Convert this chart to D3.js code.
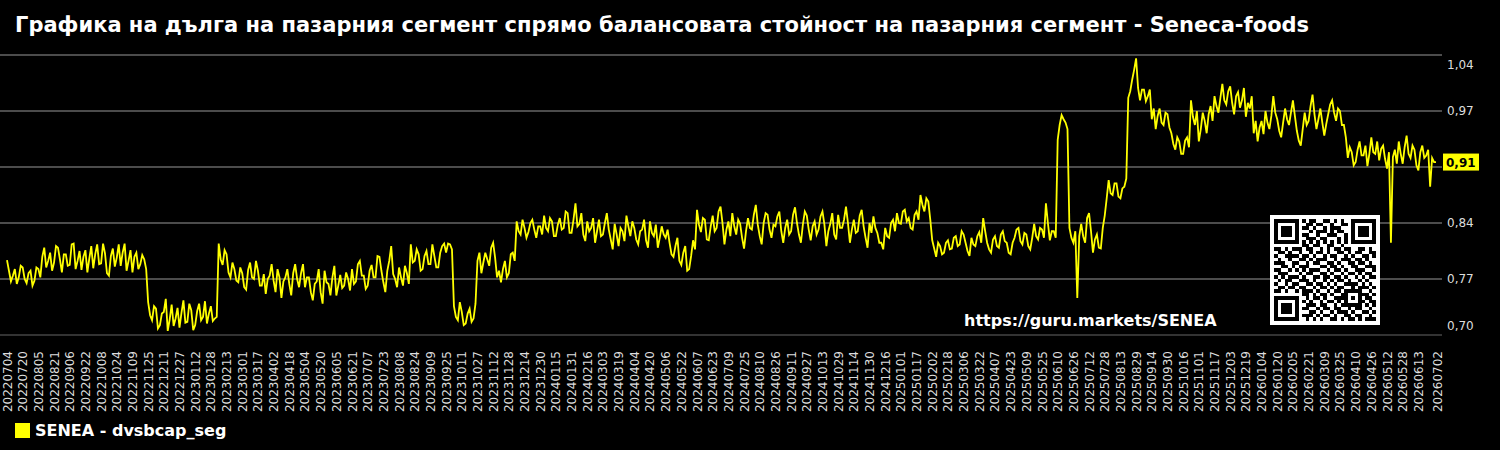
<!DOCTYPE html>
<html>
  <head>
    <meta charset="utf-8">
    <title>Seneca-foods dvsbcap_seg</title>
    <script src="https://cdn.jsdelivr.net/npm/d3@7"></script>
    <style>
      body { margin: 0; background: #000; }
      svg { display: block; font-family: "DejaVu Sans", sans-serif; }
    </style>
  </head>
  <body>
    <div id="chart"></div>
    <script>
      // data, one value every 2 days from 20220704
      const startDay = "20220704";
      const endDay = "20260702";
      const stepDays = 2;
      const values = [
        0.791, 0.778, 0.765, 0.772, 0.780, 0.762, 0.770, 0.784, 0.782, 0.768, 0.763, 0.775, 0.778, 0.760, 0.766, 0.782, 0.780, 0.770,
        0.795, 0.806, 0.782, 0.790, 0.800, 0.778, 0.788, 0.808, 0.806, 0.792, 0.776, 0.798, 0.798, 0.784, 0.785, 0.810, 0.811, 0.780,
        0.790, 0.802, 0.779, 0.795, 0.803, 0.776, 0.793, 0.808, 0.781, 0.798, 0.810, 0.786, 0.787, 0.811, 0.799, 0.775, 0.772, 0.796,
        0.805, 0.783, 0.794, 0.810, 0.784, 0.800, 0.811, 0.778, 0.790, 0.803, 0.776, 0.795, 0.800, 0.780, 0.786, 0.797, 0.792, 0.780,
        0.740, 0.724, 0.718, 0.735, 0.732, 0.708, 0.712, 0.726, 0.728, 0.744, 0.705, 0.719, 0.737, 0.711, 0.720, 0.733, 0.709, 0.727,
        0.742, 0.715, 0.716, 0.738, 0.730, 0.706, 0.712, 0.729, 0.738, 0.718, 0.722, 0.741, 0.714, 0.726, 0.735, 0.717, 0.720, 0.722,
        0.811, 0.792, 0.785, 0.803, 0.798, 0.776, 0.770, 0.788, 0.780, 0.766, 0.764, 0.782, 0.775, 0.758, 0.755, 0.779, 0.788, 0.770,
        0.768, 0.790, 0.778, 0.760, 0.760, 0.774, 0.750, 0.768, 0.772, 0.786, 0.766, 0.752, 0.780, 0.770, 0.745, 0.765, 0.770, 0.780,
        0.762, 0.748, 0.775, 0.786, 0.768, 0.758,
        0.775, 0.786, 0.758, 0.770, 0.770, 0.752, 0.742, 0.762, 0.765, 0.780, 0.752, 0.738, 0.778, 0.764, 0.762, 0.748, 0.770, 0.784,
        0.748, 0.760, 0.773, 0.757, 0.760, 0.776, 0.768, 0.754,
        0.780, 0.762, 0.765, 0.786, 0.790, 0.772, 0.772, 0.756, 0.760, 0.778, 0.785, 0.770, 0.770, 0.796, 0.795, 0.778, 0.764, 0.752,
        0.778, 0.790, 0.808, 0.774, 0.768, 0.758, 0.782, 0.770, 0.760, 0.784, 0.775, 0.762,
        0.810, 0.788, 0.790, 0.804, 0.798, 0.778, 0.780, 0.796, 0.802, 0.786, 0.786, 0.810, 0.796, 0.782, 0.782, 0.800, 0.808, 0.811,
        0.800, 0.811, 0.810, 0.804,
        0.735, 0.722, 0.718, 0.740, 0.728, 0.712, 0.714, 0.726, 0.732, 0.716, 0.720, 0.738,
        0.790, 0.800, 0.775, 0.788, 0.800, 0.792, 0.784, 0.806, 0.812, 0.794, 0.770, 0.778, 0.764, 0.780, 0.790, 0.770, 0.775, 0.798,
        0.800, 0.790,
        0.838, 0.826, 0.822, 0.840, 0.830, 0.818, 0.825, 0.836, 0.840, 0.828, 0.818, 0.832, 0.832, 0.822, 0.845, 0.830, 0.826, 0.842,
        0.838, 0.820, 0.820, 0.834, 0.842, 0.828, 0.830, 0.850, 0.848, 0.824, 0.824, 0.840, 0.860, 0.832, 0.835, 0.848, 0.822, 0.814,
        0.838, 0.826,
        0.830, 0.842, 0.812, 0.826, 0.840, 0.820, 0.822, 0.836, 0.848, 0.828, 0.816, 0.804, 0.835, 0.822, 0.808, 0.830, 0.826, 0.814,
        0.845, 0.832, 0.820, 0.838, 0.830, 0.816, 0.810, 0.826, 0.828, 0.840, 0.815, 0.806, 0.838, 0.824, 0.820, 0.834, 0.806, 0.818,
        0.832, 0.822, 0.818, 0.828,
        0.812, 0.798, 0.795, 0.808, 0.818, 0.790, 0.785, 0.800, 0.808, 0.778, 0.780, 0.796, 0.815, 0.804,
        0.852, 0.834, 0.825, 0.842, 0.840, 0.816, 0.815, 0.832, 0.845, 0.826, 0.830, 0.850, 0.856, 0.836, 0.810, 0.828, 0.838, 0.820,
        0.848, 0.832, 0.822, 0.840, 0.835, 0.818, 0.805, 0.826, 0.842, 0.830, 0.828, 0.846, 0.858, 0.834, 0.820, 0.810, 0.836, 0.848,
        0.846, 0.828, 0.818, 0.834, 0.832, 0.844, 0.850, 0.826, 0.812, 0.830, 0.840, 0.822, 0.826, 0.846, 0.855, 0.836, 0.822, 0.812,
        0.834, 0.850, 0.845, 0.828, 0.815, 0.832, 0.838, 0.822, 0.828, 0.844, 0.850, 0.834, 0.808, 0.826, 0.835, 0.848, 0.822, 0.816,
        0.846, 0.830, 0.830, 0.840, 0.856, 0.836, 0.812, 0.828, 0.840, 0.824, 0.826, 0.845, 0.852, 0.832, 0.818, 0.806, 0.836, 0.824,
        0.844, 0.830, 0.824, 0.812,
        0.812, 0.804, 0.830, 0.820, 0.818, 0.836, 0.840, 0.826, 0.848, 0.836, 0.835, 0.850, 0.852, 0.838, 0.842, 0.830, 0.828, 0.846,
        0.850, 0.840,
        0.870, 0.858, 0.850, 0.866, 0.862, 0.840,
        0.815, 0.805, 0.795, 0.812, 0.808, 0.798,
        0.800, 0.812, 0.815, 0.804, 0.805, 0.818, 0.820, 0.808, 0.810, 0.826, 0.822, 0.812, 0.802, 0.796, 0.818, 0.810, 0.808, 0.820,
        0.825, 0.812, 0.842, 0.826, 0.812, 0.804, 0.800, 0.816, 0.820, 0.808, 0.806, 0.822, 0.826, 0.814, 0.812, 0.800, 0.798, 0.812,
        0.818, 0.828, 0.830, 0.814, 0.810, 0.824, 0.822, 0.808, 0.804, 0.818, 0.835, 0.820, 0.816, 0.830, 0.828, 0.818, 0.860, 0.836,
        0.815, 0.826, 0.826, 0.818,
        0.937, 0.955, 0.967, 0.962, 0.958, 0.950,
        0.830, 0.818, 0.812, 0.826,
        0.745, 0.820,
        0.835, 0.820, 0.812, 0.842, 0.848, 0.826, 0.800, 0.816, 0.822, 0.806, 0.805, 0.830,
        0.845, 0.866, 0.888, 0.872, 0.870, 0.884, 0.884, 0.868, 0.866, 0.878, 0.880, 0.890,
        0.988, 0.996, 1.010, 1.022, 1.036, 1.000, 0.985, 0.998, 0.998, 0.984, 0.990, 0.998,
        0.962, 0.975, 0.950, 0.966, 0.975, 0.958, 0.955, 0.970, 0.968, 0.952,
        0.945, 0.932, 0.925, 0.940, 0.935, 0.920, 0.920, 0.936, 0.940, 0.928,
        0.985, 0.965, 0.955, 0.972, 0.935, 0.950, 0.970, 0.960, 0.945, 0.968, 0.978, 0.960,
        0.990, 0.978, 0.970, 0.988, 1.005, 0.985, 0.980, 0.996, 1.002, 0.982, 0.968, 0.990, 0.995, 0.976, 0.985, 1.000, 0.965, 0.982,
        0.975, 0.990,
        0.945, 0.960, 0.935, 0.952, 0.960, 0.944, 0.972, 0.958, 0.950, 0.966, 0.990, 0.970, 0.962, 0.948, 0.940, 0.958, 0.975, 0.962,
        0.955, 0.970, 0.985, 0.966, 0.948, 0.936, 0.930, 0.950, 0.970, 0.955, 0.960, 0.978, 0.992, 0.968, 0.950, 0.962, 0.975, 0.958,
        0.942, 0.956, 0.968, 0.980, 0.985, 0.970, 0.960, 0.975, 0.972, 0.955, 0.955, 0.940,
        0.915, 0.928, 0.922, 0.906, 0.910, 0.925, 0.935, 0.918, 0.918, 0.930, 0.905, 0.920, 0.940, 0.922, 0.920, 0.935, 0.912, 0.926,
        0.930, 0.914, 0.902, 0.922, 0.812, 0.916, 0.925, 0.908, 0.935, 0.920, 0.908, 0.928, 0.942, 0.920, 0.915, 0.930, 0.925, 0.906,
        0.900, 0.922, 0.930, 0.915, 0.918, 0.925, 0.880, 0.915, 0.910, 0.910
      ];
      const lastValue = 0.91;
      const lastLabel = "0,91";

      const xTickLabels = [
        "20220704", "20220720", "20220805", "20220821", "20220906", "20220922", "20221008", "20221024", "20221109", "20221125",
        "20221211", "20221227", "20230112", "20230128", "20230213", "20230301", "20230317", "20230402", "20230418", "20230504",
        "20230520", "20230605", "20230621", "20230707", "20230723", "20230808", "20230824", "20230909", "20230925", "20231011",
        "20231027", "20231112", "20231128", "20231214", "20231230", "20240115", "20240131", "20240216", "20240303", "20240319",
        "20240404", "20240420", "20240506", "20240522", "20240607", "20240623", "20240709", "20240725", "20240810", "20240826",
        "20240911", "20240927", "20241013", "20241029", "20241114", "20241130", "20241216", "20250101", "20250117", "20250202",
        "20250218", "20250306", "20250322", "20250407", "20250423", "20250509", "20250525", "20250610", "20250626", "20250712",
        "20250728", "20250813", "20250829", "20250914", "20250930", "20251016", "20251101", "20251117", "20251203", "20251219",
        "20260104", "20260120", "20260205", "20260221", "20260309", "20260325", "20260410", "20260426", "20260512", "20260528",
        "20260613", "20260702"
      ];
      const yTicks = [0.70, 0.768, 0.836, 0.904, 0.972, 1.04];
      // the 0,90 label sits under the last value box in the picture
      const yTickLabels = ["0,70", "0,77", "0,84", "", "0,97", "1,04"];

      const title = "Графика на дълга на пазарния сегмент спрямо балансовата стойност на пазарния сегмент - Seneca-foods";
      const legendLabel = "SENEA - dvsbcap_seg";
      const siteUrl = "https://guru.markets/SENEA";

      // qr code modules, 29 x 29
      const qrRows = [
        "1111111" + "0" + "1011001101010" + "0" + "1111111",
        "1000001" + "0" + "0110110010011" + "0" + "1000001",
        "1011101" + "0" + "1101001011100" + "0" + "1011101",
        "1011101" + "0" + "0010111010110" + "0" + "1011101",
        "1011101" + "0" + "1100100111001" + "0" + "1011101",
        "1000001" + "0" + "0111011000101" + "0" + "1000001",
        "1111111" + "0" + "1010101010101" + "0" + "1111111",
        "0000000" + "0" + "1101100110010" + "0" + "0000000",
        "1101011" + "1" + "0110010101101" + "1" + "0011010",
        "011010" + "0" + "1001011010011010110011",
        "100111" + "1" + "0110100101100101001101",
        "010010" + "0" + "1101011100101110110100",
        "111001" + "1" + "0010110011010011011010",
        "001101" + "0" + "1110001101101001100111",
        "110010" + "1" + "0101110010110100111001",
        "011100" + "0" + "1011001101001011010110",
        "101011" + "1" + "0100110110110100101011",
        "010110" + "0" + "1110100101011010010100",
        "100101" + "1" + "0011011010100111101010",
        "011011" + "0" + "1100101101011001011101",
        "110100" + "1" + "0111010010110" + "11111" + "0010",
        "00000000" + "110101101001" + "10001" + "1101",
        "1111111" + "0" + "010110100111" + "10101" + "0110",
        "1000001" + "0" + "101001011010" + "10001" + "1011",
        "1011101" + "0" + "011101100101" + "11111" + "0101",
        "1011101" + "0" + "110010110110010110010",
        "1011101" + "0" + "001101001011101001101",
        "1000001" + "0" + "111010110100110110010",
        "1111111" + "0" + "010101001101011010111"
      ];

      const width = 1500, height = 450;
      const parse = d3.utcParse("%Y%m%d");
      const start = parse(startDay);
      const series = values.map(function(v, i) {
        return { date: d3.utcDay.offset(start, i * stepDays), value: v };
      });

      const x = d3.scaleUtc()
        .domain([start, parse(endDay)])
        .range([7, 1437]);
      const y = d3.scaleLinear()
        .domain([0.70, 1.04])
        .range([335, 55]);

      const svg = d3.select("#chart")
        .append("svg")
        .attr("width", width)
        .attr("height", height);
      svg.append("rect")
        .attr("width", width)
        .attr("height", height)
        .attr("fill", "#000");

      // title
      svg.append("text")
        .attr("x", 15)
        .attr("y", 32)
        .attr("fill", "#fff")
        .style("font-size", "21px")
        .style("font-weight", "bold")
        .text(title);

      // gridlines
      svg.append("g")
        .selectAll("line")
        .data(yTicks)
        .join("line")
          .attr("x1", 0)
          .attr("x2", 1442)
          .attr("y1", function(d) { return y(d); })
          .attr("y2", function(d) { return y(d); })
          .attr("stroke", function(d, i) { return i == 0 ? "#444" : "#666"; })
          .attr("stroke-width", 1.6);

      // right axis labels
      const yAxis = svg.append("g")
        .attr("transform", "translate(1447,0)")
        .call(d3.axisRight(y)
          .tickValues(yTicks)
          .tickSize(0)
          .tickPadding(0)
          .tickFormat(function(d, i) { return yTickLabels[i]; }));
      yAxis.select(".domain").remove();
      yAxis.selectAll("text")
        .attr("fill", "#ddd")
        .style("font-size", "12px")
        .style("font-family", "DejaVu Sans, sans-serif")
        .attr("dy", function(d, i) {
          return i == 0 ? "-0.5em" : i == yTicks.length - 1 ? "1.1em" : "0.32em";
        });

      // bottom axis labels, rotated
      svg.append("g")
        .selectAll("text")
        .data(xTickLabels)
        .join("text")
          .attr("transform", function(d) { return "translate(" + (x(parse(d)) + 4.5) + ",351) rotate(-90)"; })
          .attr("text-anchor", "end")
          .attr("fill", "#ddd")
          .style("font-size", "12px")
          .text(function(d) { return d; });

      // the line
      const line = d3.line()
        .x(function(d) { return x(d.date); })
        .y(function(d) { return y(d.value); });
      svg.append("path")
        .datum(series)
        .attr("d", line)
        .attr("fill", "none")
        .attr("stroke", "#ffff00")
        .attr("stroke-width", 1.8)
        .attr("stroke-linejoin", "miter");

      // last value box
      const lastY = y(lastValue);
      svg.append("rect")
        .attr("x", 1443)
        .attr("y", lastY - 8.5)
        .attr("width", 36)
        .attr("height", 17)
        .attr("fill", "#ffff00");
      svg.append("text")
        .attr("x", 1446)
        .attr("y", lastY + 4.5)
        .attr("fill", "#000")
        .style("font-size", "12px")
        .style("font-weight", "bold")
        .text(lastLabel);

      // url and qr code
      svg.append("text")
        .attr("x", 964)
        .attr("y", 326)
        .attr("fill", "#fff")
        .style("font-size", "16px")
        .style("font-weight", "bold")
        .text(siteUrl);

      const qrSize = 110, cell = 3.5;
      const qr = svg.append("g")
        .attr("transform", "translate(1270,215)")
        .attr("shape-rendering", "crispEdges");
      qr.append("rect")
        .attr("width", qrSize)
        .attr("height", qrSize)
        .attr("fill", "#fff");
      const pad = (qrSize - qrRows.length * cell) / 2;
      qrRows.forEach(function(row, r) {
        row.split("").forEach(function(c, k) {
          if (c == "1") {
            qr.append("rect")
              .attr("x", pad + k * cell)
              .attr("y", pad + r * cell)
              .attr("width", cell)
              .attr("height", cell)
              .attr("fill", "#000");
          }
        });
      });

      // legend
      svg.append("rect")
        .attr("x", 15)
        .attr("y", 423)
        .attr("width", 15)
        .attr("height", 15)
        .attr("fill", "#ffff00");
      svg.append("text")
        .attr("x", 35)
        .attr("y", 436)
        .attr("fill", "#fff")
        .style("font-size", "16px")
        .style("font-weight", "bold")
        .text(legendLabel);
    </script>
  </body>
</html>
